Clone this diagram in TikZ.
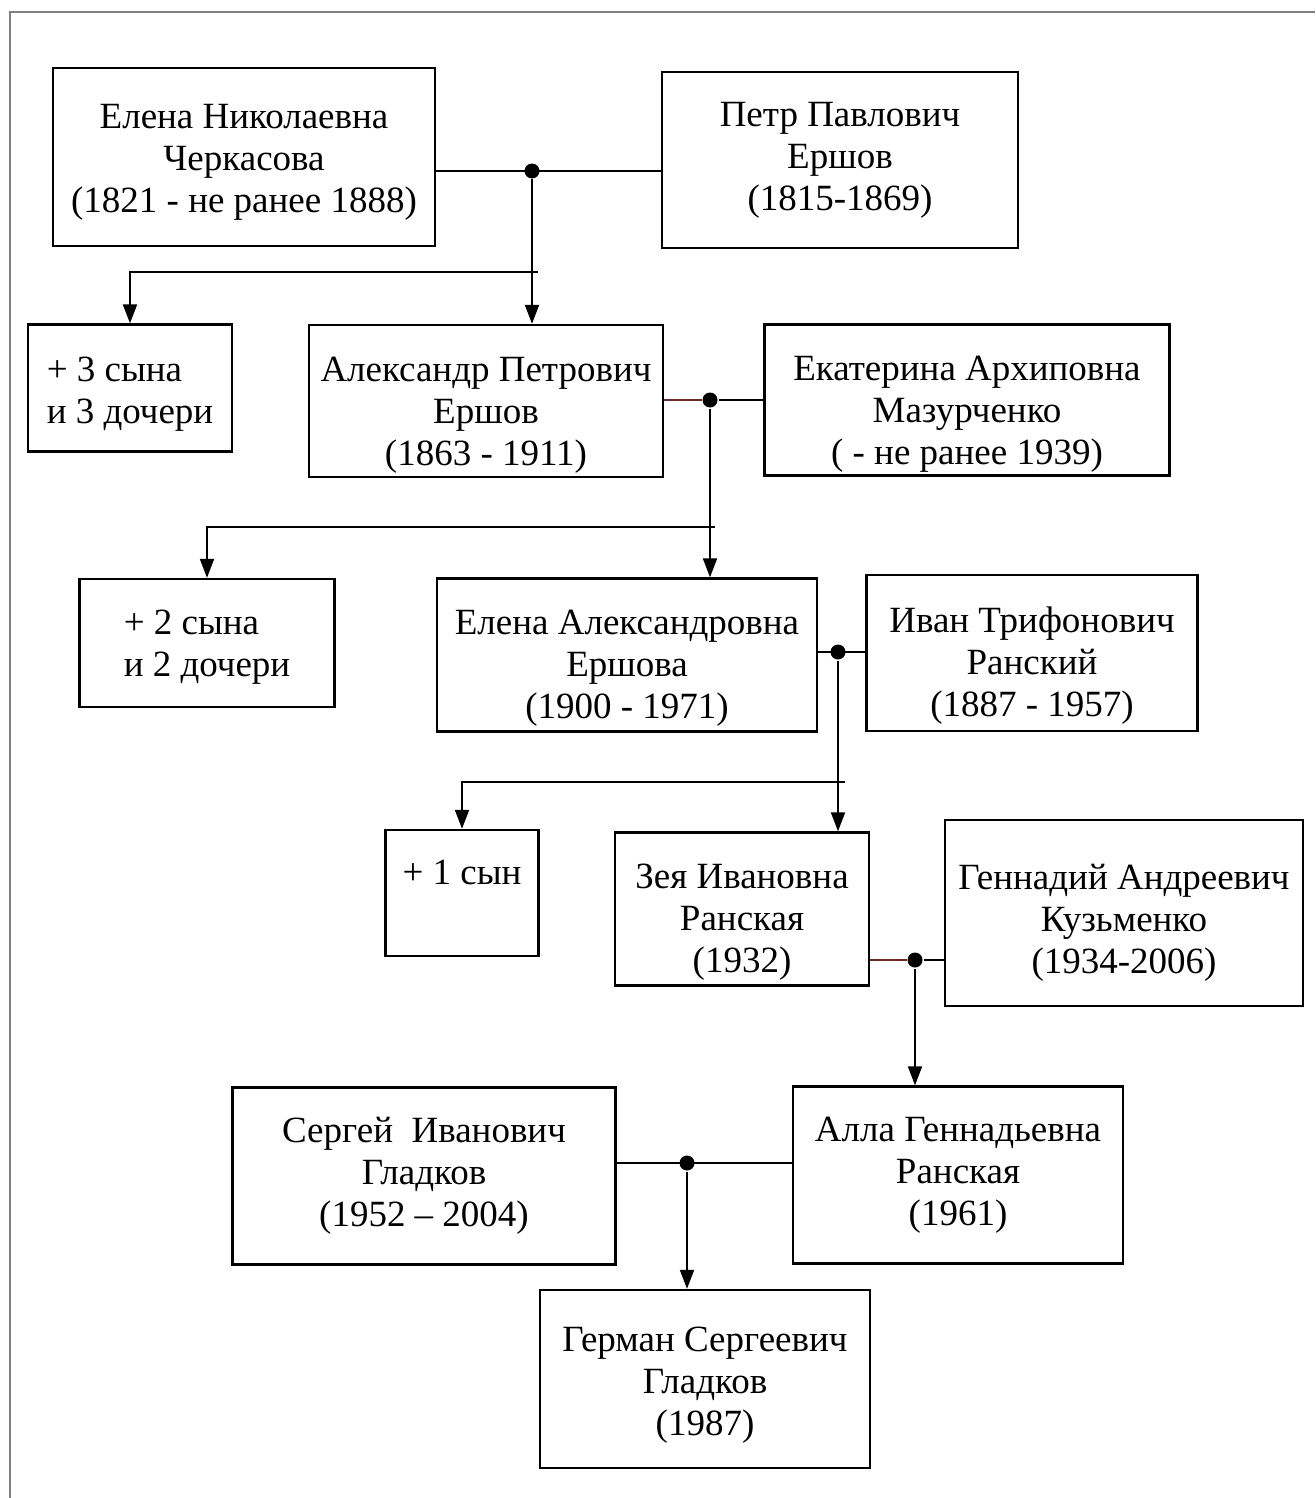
\documentclass[tikz,border=0pt]{standalone}
\usepackage{fontspec}
\setmainfont{Liberation Serif}
\usetikzlibrary{arrows.meta}
\definecolor{kinred}{RGB}{115,40,35}
\newcommand{\pad}[1]{\rule{0pt}{#1pt}}
\tikzset{
  person/.style={draw, line width=2.4pt, align=center, inner sep=0pt,
    font=\fontsize{37}{42}\selectfont},
  kids/.style={person, align=left},
  wed/.style={circle, fill, inner sep=0pt, minimum size=15pt},
  >={Triangle[length=19pt, width=14pt]}
}

\begin{document}
\begin{tikzpicture}[x=1pt, y=-1pt, line width=2pt]
  \useasboundingbox (0,0) rectangle (1315,1498);
  \draw[gray] (10,1498) -- (10,12) -- (1315,12);

  % generation 1
  \node[person, minimum width=382pt, minimum height=178pt] (cherk) at (244,157) {\pad{35}Елена Николаевна\\Черкасова\\(1821 - не ранее 1888)};
  \node[person, minimum width=356pt, minimum height=176pt] (petr) at (840,160) {Петр Павлович\\Ершов\\(1815-1869)};
  \node[wed] (w1) at (532,171) {};
  \draw (cherk.east |- w1) -- (petr.west |- w1);

  % generation 2
  \node[kids, minimum width=204pt, minimum height=127pt] (sib1) at (130,388) {\pad{37}+ 3 сына\\и 3 дочери};
  \node[person, minimum width=354pt, minimum height=152pt] (alex) at (486,401) {\pad{53}Александр Петрович\\Ершов\\(1863 - 1911)};
  \node[person, minimum width=405pt, minimum height=151pt] (ekat) at (967,400) {\pad{53}Екатерина Архиповна\\Мазурченко\\( - не ранее 1939)};
  \draw[->] (w1) -- (alex.north -| w1);
  \coordinate (b1) at (538,272);
  \draw[->] (b1) -| (sib1.north);
  \node[wed] (w2) at (710,400) {};
  \draw[kinred] (alex.east |- w2) -- (w2);
  \draw (w2) -- (ekat.west |- w2);

  % generation 3
  \node[kids, minimum width=255pt, minimum height=128pt] (sib2) at (207,643) {\pad{33}+ 2 сына\\и 2 дочери};
  \node[person, minimum width=380pt, minimum height=153pt] (elena) at (627,655) {\pad{51}Елена Александровна\\Ершова\\(1900 - 1971)};
  \node[person, minimum width=331pt, minimum height=156pt] (ivan) at (1032,653) {\pad{51}Иван Трифонович\\Ранский\\(1887 - 1957)};
  \draw[->] (w2) -- (elena.north -| w2);
  \coordinate (b2) at (715,527);
  \draw[->] (b2) -| (sib2.north);
  \node[wed] (w3) at (838,652) {};
  \draw (elena.east |- w3) -- (ivan.west |- w3);

  % generation 4
  \node[kids, minimum width=153pt, minimum height=126pt] (sib3) at (462,893) {+ 1 сын\\~};
  \node[person, minimum width=254pt, minimum height=153pt] (zeya) at (742,909) {\pad{51}Зея Ивановна\\Ранская\\(1932)};
  \node[person, minimum width=358pt, minimum height=186pt] (genn) at (1124,913) {\pad{45}Геннадий Андреевич\\Кузьменко\\(1934-2006)};
  \draw[->] (w3) -- (zeya.north -| w3);
  \coordinate (b3) at (845,782);
  \draw[->] (b3) -| (sib3.north);
  \node[wed] (w4) at (915,960) {};
  \draw[kinred] (zeya.east |- w4) -- (w4);
  \draw (w4) -- (genn.west |- w4);

  % generation 5
  \node[person, minimum width=383pt, minimum height=177pt] (serg) at (424,1176) {Сергей~ Иванович\\Гладков\\(1952 – 2004)};
  \node[person, minimum width=330pt, minimum height=177pt] (alla) at (958,1175) {Алла Геннадьевна\\Ранская\\(1961)};
  \draw[->] (w4) -- (alla.north -| w4);
  \node[wed] (w5) at (687,1163) {};
  \draw (serg.east |- w5) -- (alla.west |- w5);

  % generation 6
  \node[person, minimum width=330pt, minimum height=178pt] (german) at (705,1379) {\pad{37}Герман Сергеевич\\Гладков\\(1987)};
  \draw[->] (w5) -- (german.north -| w5);
\end{tikzpicture}
\end{document}
